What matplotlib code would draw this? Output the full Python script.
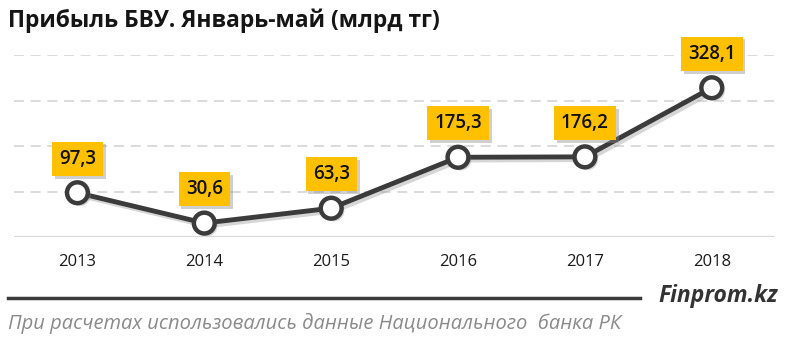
import matplotlib
matplotlib.use("Agg")
import matplotlib.pyplot as plt
import matplotlib.patheffects as pe
from matplotlib.lines import Line2D

plt.rcParams['font.family'] = ['Open Sans', 'DejaVu Sans']

years = ['2013', '2014', '2015', '2016', '2017', '2018']
values = [97.3, 30.6, 63.3, 175.3, 176.2, 328.1]
labels = ['97,3', '30,6', '63,3', '175,3', '176,2', '328,1']
title = 'Прибыль БВУ. Январь-май (млрд тг)'
source = 'При расчетах использовались данные Национального  банка РК'
brand = 'Finprom.kz'

fig = plt.figure(figsize=(8, 3.42), dpi=100)
ax = fig.add_axes([0.0175, 0.307, 0.9515, 0.532])
x = list(range(len(years)))
ax.set_xlim(-0.5, len(years) - 0.5)
ax.set_ylim(0, 400)

for yv in [100, 200, 300, 400]:
    ax.axhline(yv, color='#d4d4d4', lw=1.2, ls=(0, (6, 4)), zorder=0)
ax.axhline(0, color='#d9d9d9', lw=1.6, zorder=0)

shadow_line = [pe.SimpleLineShadow(offset=(2, -2), shadow_color='#999999', alpha=0.4), pe.Normal()]
ax.plot(x, values, color='#3b3b3b', lw=3.5, zorder=2, path_effects=shadow_line, solid_capstyle='round')
ax.plot(x, values, ls='none', marker='o', ms=15, mfc='white', mec='#3b3b3b', mew=3.2, zorder=3,
        path_effects=[pe.SimplePatchShadow(offset=(2, -2), shadow_rgbFace='#999999', alpha=0.4), pe.Normal()])

for xi, v, lab in zip(x, values, labels):
    t = ax.annotate(lab, (xi, v), xytext=(0, 34), textcoords='offset pixels', ha='center', va='center',
                    fontsize=13.5, fontweight='semibold', color='#111111', zorder=5,
                    bbox=dict(boxstyle='square,pad=0.38', fc='#FFC000', ec='none'))
    t.get_bbox_patch().set_path_effects([pe.SimplePatchShadow(offset=(2, -2), shadow_rgbFace='#888888', alpha=0.4), pe.Normal()])

ax.set_xticks(x)
ax.set_xticklabels(years, fontsize=12, color='#1a1a1a')
ax.tick_params(axis='x', length=0, pad=12)
ax.set_yticks([])
for s in ax.spines.values():
    s.set_visible(False)

fig.text(0.01, 0.94, title, fontsize=16.5, fontweight='bold', color='#151515', ha='left', va='center')

fig.add_artist(Line2D([0.01, 0.8], [1 - 298 / 342, 1 - 298 / 342], color='#3a3a3a', lw=2.5))
fig.text(0.973, 1 - 296 / 342, brand, fontsize=16.5, fontweight='bold', style='italic', color='#333333',
         ha='right', va='center')
fig.text(0.01, 1 - 323 / 342, source, fontsize=14.5, style='italic', color='#8a8a8a', ha='left', va='center')

fig.savefig('out.png', dpi=100)
